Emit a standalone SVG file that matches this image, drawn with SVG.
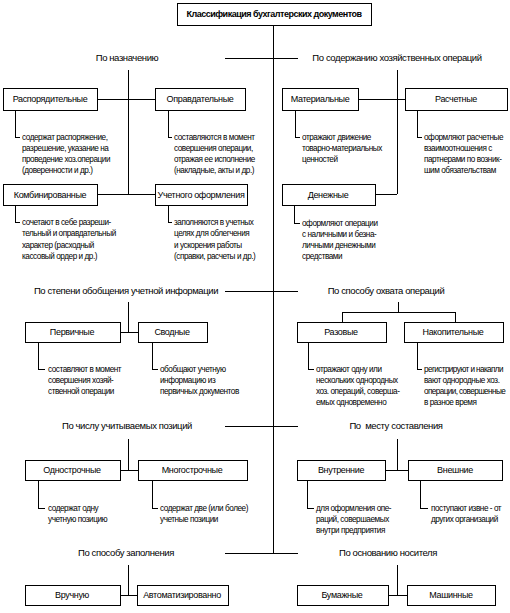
<svg xmlns="http://www.w3.org/2000/svg" width="510" height="613" viewBox="0 0 510 613">
<style>
rect{fill:#fff;stroke:#000;stroke-width:1}
line,polyline{stroke:#000;stroke-width:1;fill:none}
svg{shape-rendering:crispEdges}
text{font-family:"Liberation Sans",Arial,sans-serif;fill:#000}
.t{font-size:9px;font-weight:bold;letter-spacing:-0.5px;text-anchor:middle}
.s{font-size:9.5px;letter-spacing:-0.4px;text-anchor:middle}
.n{font-size:9px;letter-spacing:-0.35px;text-anchor:middle}
.d{font-size:8.2px;letter-spacing:-0.45px}
</style>
<rect width="510" height="613" style="stroke:none"/>
<g id="connectors">
<line x1="273" y1="25" x2="273" y2="553"/>
<line x1="225" y1="58" x2="298" y2="58"/>
<line x1="225" y1="291" x2="298" y2="291"/>
<line x1="225" y1="426" x2="298" y2="426"/>
<line x1="225" y1="553" x2="298" y2="553"/>
<line x1="128" y1="70" x2="128" y2="194"/>
<line x1="97" y1="99" x2="155" y2="99"/>
<line x1="97" y1="194" x2="155" y2="194"/>
<polyline points="15,110 15,137 20,137"/>
<polyline points="168,110 168,137 172,137"/>
<polyline points="15,205 15,222 20,222"/>
<polyline points="168,205 168,222 172,222"/>
<line x1="397" y1="70" x2="397" y2="194"/>
<line x1="358" y1="99" x2="405" y2="99"/>
<line x1="375" y1="194" x2="397" y2="194"/>
<polyline points="295,110 295,137 300,137"/>
<polyline points="417,110 417,137 422,137"/>
<polyline points="294,205 294,223 300,223"/>
<line x1="128" y1="302" x2="128" y2="332"/>
<line x1="120" y1="332" x2="138" y2="332"/>
<polyline points="38,342 38,369 45,369"/>
<polyline points="152,342 152,369 158,369"/>
<line x1="398" y1="302" x2="398" y2="312"/>
<polyline points="342,322 342,312 455,312 455,322"/>
<polyline points="308,342 308,369 314,369"/>
<polyline points="417,342 417,369 422,369"/>
<line x1="128" y1="439" x2="128" y2="470"/>
<line x1="120" y1="470" x2="138" y2="470"/>
<polyline points="38,480 38,508 45,508"/>
<polyline points="152,480 152,508 158,508"/>
<line x1="397" y1="439" x2="397" y2="470"/>
<line x1="385" y1="470" x2="408" y2="470"/>
<polyline points="307,480 307,508 314,508"/>
<polyline points="420,480 420,508 428,508"/>
<line x1="128" y1="565" x2="128" y2="595"/>
<line x1="120" y1="595" x2="137" y2="595"/>
<line x1="397" y1="565" x2="397" y2="595"/>
<line x1="388" y1="595" x2="407" y2="595"/>
</g>
<g id="title"><rect x="177" y="3" width="194" height="22"/><text class="t" x="274" y="17">Классификация бухгалтерских документов</text></g>
<g id="lbl1l"><text class="s" x="127" y="61">По назначению</text></g>
<g id="lbl1r"><text class="s" x="397" y="61">По содержанию хозяйственных операций</text></g>
<g id="lbl2l"><text class="s" x="126" y="294">По степени обобщения учетной информации</text></g>
<g id="lbl2r"><text class="s" x="386" y="294">По способу охвата операций</text></g>
<g id="lbl3l"><text class="s" x="127" y="429">По числу учитываемых позиций</text></g>
<g id="lbl3r"><text class="s" x="396" y="429" xml:space="preserve">По  месту составления</text></g>
<g id="lbl4l"><text class="s" x="126" y="556">По способу заполнения</text></g>
<g id="lbl4r"><text class="s" x="388" y="556">По основанию носителя</text></g>

<g id="rasp"><rect x="3" y="88" width="94" height="22"/><text class="n" x="50" y="102">Распорядительные</text>
<text class="d"><tspan x="22" y="140">содержат распоряжение,</tspan><tspan x="22" y="151">разрешение, указание на</tspan><tspan x="22" y="162">проведение хоз.операции</tspan><tspan x="22" y="173">(доверенности и др.)</tspan></text></g>
<g id="oprav"><rect x="155" y="88" width="90" height="22"/><text class="n" x="200" y="102">Оправдательные</text>
<text class="d"><tspan x="174" y="140">составляются в момент</tspan><tspan x="174" y="151">совершения операции,</tspan><tspan x="174" y="162">отражая ее исполнение</tspan><tspan x="174" y="173">(накладные, акты и др.)</tspan></text></g>
<g id="komb"><rect x="3" y="184" width="94" height="21"/><text class="n" x="50" y="197.5">Комбинированные</text>
<text class="d"><tspan x="22" y="225">сочетают в себе разреши-</tspan><tspan x="22" y="236">тельный и оправдательный</tspan><tspan x="22" y="247.5">характер (расходный</tspan><tspan x="22" y="259">кассовый ордер и др.)</tspan></text></g>
<g id="uchet"><rect x="155" y="184" width="92" height="21"/><text class="n" x="201" y="197.5">Учетного оформления</text>
<text class="d"><tspan x="174" y="225">заполняются в учетных</tspan><tspan x="174" y="236">целях для облегчения</tspan><tspan x="174" y="247.5">и ускорения работы</tspan><tspan x="174" y="259">(справки, расчеты и др.)</tspan></text></g>

<g id="mater"><rect x="282" y="88" width="76" height="22"/><text class="n" x="320" y="102">Материальные</text>
<text class="d"><tspan x="302" y="140">отражают движение</tspan><tspan x="302" y="151">товарно-материальных</tspan><tspan x="302" y="162">ценностей</tspan></text></g>
<g id="rasch"><rect x="405" y="88" width="102" height="22"/><text class="n" x="456" y="102">Расчетные</text>
<text class="d"><tspan x="424" y="140">оформляют расчетные</tspan><tspan x="424" y="151">взаимоотношения с</tspan><tspan x="424" y="162">партнерами по возник-</tspan><tspan x="424" y="173">шим обязательствам</tspan></text></g>
<g id="denezh"><rect x="282" y="184" width="93" height="21"/><text class="n" x="328" y="197.5">Денежные</text>
<text class="d"><tspan x="302" y="226">оформляют операции</tspan><tspan x="302" y="237">с наличными и безна-</tspan><tspan x="302" y="248">личными денежными</tspan><tspan x="302" y="259">средствами</tspan></text></g>

<g id="perv"><rect x="25" y="322" width="95" height="20"/><text class="n" x="72" y="335">Первичные</text>
<text class="d"><tspan x="48" y="372">составляют в момент</tspan><tspan x="48" y="383">совершения хозяй-</tspan><tspan x="48" y="394">ственной операции</tspan></text></g>
<g id="svod"><rect x="138" y="322" width="69" height="20"/><text class="n" x="172" y="335">Сводные</text>
<text class="d"><tspan x="160" y="372">обобщают учетную</tspan><tspan x="160" y="383">информацию из</tspan><tspan x="160" y="394">первичных документов</tspan></text></g>
<g id="razov"><rect x="297" y="322" width="89" height="20"/><text class="n" x="341" y="335">Разовые</text>
<text class="d"><tspan x="316" y="372">отражают одну или</tspan><tspan x="316" y="383">нескольких однородных</tspan><tspan x="316" y="394">хоз. операций, соверша-</tspan><tspan x="316" y="405">емых одновременно</tspan></text></g>
<g id="nakop"><rect x="404" y="322" width="99" height="20"/><text class="n" x="453" y="335">Накопительные</text>
<text class="d"><tspan x="424" y="372" style="letter-spacing:-0.6px">регистрируют и накапли</tspan><tspan x="424" y="383">вают однородные хоз.</tspan><tspan x="424" y="394" style="letter-spacing:-0.6px">операции, совершенные</tspan><tspan x="424" y="405">в разное время</tspan></text></g>

<g id="odno"><rect x="25" y="460" width="95" height="20"/><text class="n" x="72" y="473">Однострочные</text>
<text class="d"><tspan x="48" y="511">содержат одну</tspan><tspan x="48" y="522">учетную позицию</tspan></text></g>
<g id="mnogo"><rect x="138" y="460" width="109" height="20"/><text class="n" x="192" y="473">Многострочные</text>
<text class="d"><tspan x="160" y="511">содержат две (или более)</tspan><tspan x="160" y="522">учетные позиции</tspan></text></g>
<g id="vnutr"><rect x="297" y="460" width="88" height="20"/><text class="n" x="341" y="473">Внутренние</text>
<text class="d"><tspan x="316" y="511">для оформления опе-</tspan><tspan x="316" y="522">раций, совершаемых</tspan><tspan x="316" y="533">внутри предприятия</tspan></text></g>
<g id="vnesh"><rect x="408" y="460" width="94" height="20"/><text class="n" x="455" y="473">Внешние</text>
<text class="d"><tspan x="431" y="511">поступают извне - от</tspan><tspan x="431" y="522">других организаций</tspan></text></g>

<g id="vruch"><rect x="25" y="585" width="95" height="20"/><text class="n" x="72" y="598">Вручную</text></g>
<g id="avto"><rect x="137" y="585" width="91" height="20"/><text class="n" x="182" y="598">Автоматизированно</text></g>
<g id="bum"><rect x="297" y="585" width="91" height="20"/><text class="n" x="342" y="598">Бумажные</text></g>
<g id="mash"><rect x="407" y="585" width="88" height="20"/><text class="n" x="451" y="598">Машинные</text></g>
</svg>
